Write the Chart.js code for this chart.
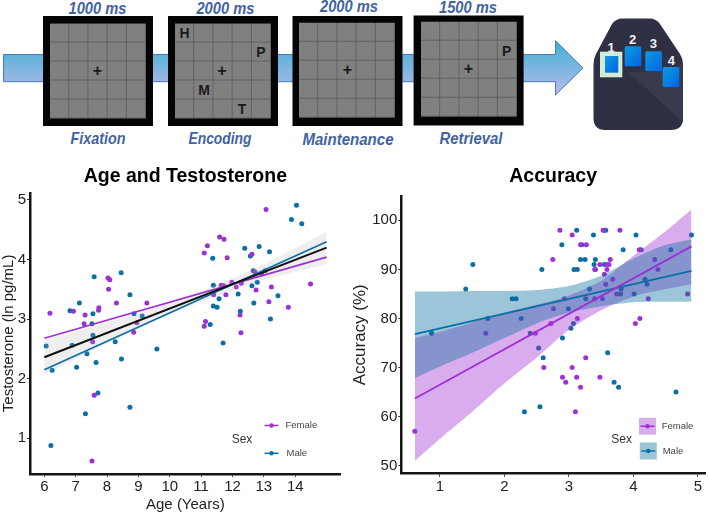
<!DOCTYPE html>
<html>
<head>
<meta charset="utf-8">
<title>Age, testosterone and accuracy</title>
<script src="https://cdn.jsdelivr.net/npm/chart.js"></script>
<style>
html, body { margin: 0; padding: 0; background: #fff; }
#page { position: relative; width: 709px; height: 514px; overflow: hidden; }
#task { position: absolute; left: 0; top: 0; }
#task text { font-family: "Liberation Sans", sans-serif; }
.cap { font-size: 17px; font-style: italic; font-weight: bold; fill: #3f63a3; text-anchor: middle; }
.letter { font-size: 14px; font-weight: bold; fill: #1a1a1a; text-anchor: middle; }
.num { font-size: 13px; font-weight: bold; fill: #f2f2f2; text-anchor: middle; }
canvas { position: absolute; top: 160px; }
#ageChart { left: 0; }
#accChart { left: 350px; }
</style>
</head>
<body>
<div id="page">
<svg id="task" width="709" height="160" xmlns="http://www.w3.org/2000/svg">
  <defs>
    <linearGradient id="arrowFill" x1="0" y1="0" x2="0" y2="1">
      <stop offset="0" stop-color="#3fb2d6"/>
      <stop offset="1" stop-color="#b9b9ea"/>
    </linearGradient>
    <linearGradient id="keyFill" x1="0" y1="0" x2="1" y2="1">
      <stop offset="0" stop-color="#0a9be0"/>
      <stop offset="1" stop-color="#0664e4"/>
    </linearGradient>
    <pattern id="cells" width="19.2" height="19" patternUnits="userSpaceOnUse">
      <rect width="19.2" height="19" fill="#808080"/>
      <path d="M19.2 0V19M0 19H19.2" stroke="#444" stroke-width="1" fill="none"/>
    </pattern>
  </defs>
  <path d="M3.5 54.5H555.5V40.7L582.8 68L555.5 95V81.7H3.5Z" fill="url(#arrowFill)" stroke="#4a78b8" stroke-width="1"/>
  <g id="frames"></g>
  <text class="letter" x="184.6" y="38">H</text>
  <text class="letter" x="260.8" y="57">P</text>
  <text class="letter" x="204" y="95">M</text>
  <text class="letter" x="242" y="114">T</text>
  <text class="letter" x="506.6" y="56">P</text>
  <text class="cap" x="97.5" y="14" textLength="58" lengthAdjust="spacingAndGlyphs">1000 ms</text>
  <text class="cap" x="225.4" y="14" textLength="58" lengthAdjust="spacingAndGlyphs">2000 ms</text>
  <text class="cap" x="349" y="12" textLength="58" lengthAdjust="spacingAndGlyphs">2000 ms</text>
  <text class="cap" x="468" y="13" textLength="58" lengthAdjust="spacingAndGlyphs">1500 ms</text>
  <text class="cap" x="98" y="144" textLength="55" lengthAdjust="spacingAndGlyphs">Fixation</text>
  <text class="cap" x="220" y="144" textLength="63" lengthAdjust="spacingAndGlyphs">Encoding</text>
  <text class="cap" x="348" y="145" textLength="91" lengthAdjust="spacingAndGlyphs">Maintenance</text>
  <text class="cap" x="471" y="144" textLength="63" lengthAdjust="spacingAndGlyphs">Retrieval</text>
  <path d="M622 18.5H650Q656 18.5 660 24L680 54Q683 59 683 64V118Q683 130 671 130H605Q593.5 130 593.5 118V64Q593.5 59 596 54L612 24Q616 18.5 622 18.5Z" fill="#2f3044"/>
  <path d="M628 72L683 122V64L660 72Z" fill="#383a4d"/>
  <rect x="600" y="51.7" width="22.3" height="25.6" fill="#d3ecd8"/>
  <rect x="605" y="56" width="13.3" height="16.7" fill="url(#keyFill)"/>
  <rect x="624.7" y="46.3" width="16.6" height="20" rx="1.5" fill="url(#keyFill)"/>
  <rect x="645.3" y="51.3" width="16.7" height="20" rx="1.5" fill="url(#keyFill)"/>
  <rect x="662.7" y="67" width="16.6" height="20" rx="1.5" fill="url(#keyFill)"/>
  <text class="num" x="611" y="52">1</text>
  <text class="num" x="632.7" y="44">2</text>
  <text class="num" x="653.3" y="48">3</text>
  <text class="num" x="671.3" y="65">4</text>
</svg>
<canvas id="ageChart" width="345" height="354"></canvas>
<canvas id="accChart" width="359" height="354"></canvas>
</div>

<script>
// left plot: age vs testosterone
var ageFemale = [6.18, 6.93, 7.30, 7.27, 8.03, 8.09, 8.05, 7.74, 7.73, 8.30, 9.27, 8.95, 8.85, 7.54, 7.59, 7.52,
  13.07, 11.59, 11.73, 11.20, 11.10, 11.83, 12.62, 12.72, 12.93, 11.98, 12.28, 11.64, 11.72, 12.12, 13.24, 14.49,
  12.75, 11.40, 11.79, 13.16, 13.78, 11.14, 11.10, 12.24, 12.27];
var testoFemale = [3.10, 3.13, 3.07, 2.92, 3.69, 3.66, 3.50, 3.19, 3.15, 3.27, 3.27, 2.94, 2.78, 2.62, 1.72, 0.62,
  4.84, 4.38, 4.34, 4.23, 4.11, 4.03, 4.09, 3.79, 3.76, 3.62, 3.60, 3.57, 3.56, 3.54, 3.54, 3.59,
  3.49, 3.41, 3.41, 3.29, 3.20, 2.96, 2.88, 3.07, 2.77];
var ageMale = [7.59, 8.45, 8.73, 7.12, 6.82, 7.55, 7.52, 7.55, 8.86, 9.12, 6.06, 6.25, 6.89, 7.03, 7.36, 7.65, 8.26,
  8.46, 9.59, 11.70, 7.71, 8.73, 7.31, 6.21,
  14.04, 13.88, 14.21, 12.85, 12.39, 13.18, 12.57, 11.37, 12.66, 13.04, 11.39, 12.79, 12.62, 12.18, 13.45, 11.57,
  12.68, 11.39, 11.51, 12.25, 13.21, 11.29];
var testoMale = [3.71, 3.78, 3.41, 3.27, 3.14, 3.09, 2.92, 2.73, 3.09, 3.05, 2.55, 2.14, 2.56, 2.19, 2.42, 2.27, 2.62,
  2.33, 2.50, 2.60, 1.76, 1.52, 1.41, 0.88,
  4.91, 4.67, 4.60, 4.22, 4.19, 4.13, 4.06, 4.02, 3.81, 3.81, 3.57, 3.62, 3.56, 3.42, 3.39, 3.34,
  3.27, 3.22, 3.20, 3.13, 3.00, 2.91];
var ageFitX = [6, 15];
var ageFitFemale = [2.68, 4.04];
var ageFitMale = [2.15, 4.30];
var ageFitAll = [2.36, 4.20];
var ageBandX = [6, 7, 8, 9, 10, 11, 12, 13, 14, 15];
var ageBandUpper = [2.65, 2.79, 2.95, 3.10, 3.28, 3.47, 3.68, 3.92, 4.19, 4.46];
var ageBandLower = [2.07, 2.33, 2.59, 2.84, 3.08, 3.29, 3.48, 3.66, 3.79, 3.92];
var ageTicksX = [6, 7, 8, 9, 10, 11, 12, 13, 14];
var ageTicksY = [1, 2, 3, 4, 5];

// right plot: accuracy
var accXFemale = [2.86, 3.05, 3.53, 3.79, 3.18, 3.27, 4.09, 2.75, 3.64, 3.48, 3.59, 3.62, 3.40, 3.59, 3.55, 4.33, 4.38,
  3.68, 3.57, 2.93, 2.76, 3.40, 3.52, 3.74, 4.23, 4.84, 3.13, 2.72, 2.48, 4.10, 4.03, 1.71, 0.61,
  2.61, 3.26, 3.05, 2.90, 3.12, 2.95, 3.18, 3.48, 3.10];
var accYFemale = [98, 97, 98, 98, 95, 95, 94, 92, 92, 91, 91, 91, 90, 90, 89, 92, 90,
  88, 87, 84, 82, 84, 84, 85, 84, 85, 80, 79, 77, 80, 79, 77, 57,
  70, 72, 70, 68, 68, 67, 66, 68, 61];
var accXMale = [3.12, 3.38, 3.55, 3.57, 4.04, 4.90, 2.89, 3.20, 3.84, 4.12, 4.58, 3.18, 3.25, 3.41, 3.39, 3.55, 2.58,
  3.08, 3.13, 3.41, 4.18, 3.32, 4.21, 3.81, 3.26, 3.80, 4.01, 2.99, 2.26, 3.07, 3.03, 2.40, 2.90,
  1.51, 1.40, 2.12, 2.18, 1.74, 0.87, 2.53, 2.60, 3.60, 3.70, 3.77, 4.66, 2.31, 2.55];
var accYMale = [98, 97, 98, 98, 97, 97, 95, 95, 94, 94, 94, 92, 92, 92, 91, 91, 90,
  90, 90, 90, 88, 86, 87, 86, 84, 85, 85, 82, 80, 79, 78, 77, 76,
  91, 86, 84, 84, 80, 77, 74, 72, 73, 67, 66, 65, 61, 62];
var accFitX = [0.61, 4.9];
var accFitFemale = [63.7, 94.7];
var accFitMale = [76.8, 89.7];
var accBandX = [0.61, 1.0, 1.5, 2.0, 2.5, 3.0, 3.5, 4.0, 4.5, 4.9];
var femaleUpper = [76.0, 77.3, 79.2, 81.2, 82.8, 84.7, 87.7, 92.8, 97.8, 102.2];
var femaleLower = [51.0, 55.5, 61.0, 66.8, 72.0, 77.7, 81.7, 84.5, 86.0, 87.0];
var maleUpper = [85.5, 85.5, 85.6, 85.6, 85.8, 86.6, 88.7, 92.2, 95.0, 96.1];
var maleLower = [67.8, 70.2, 73.0, 76.0, 79.0, 81.2, 82.5, 83.3, 83.4, 83.4];
var accTicksX = [1, 2, 3, 4, 5];
var accTicksY = [50, 60, 70, 80, 90, 100];

var PURPLE = '#9c30d4';
var BLUE = '#0a6fa6';
var PURPLE_BAND = 'rgba(160,50,210,0.4)';
var BLUE_BAND = 'rgba(10,110,160,0.4)';
var FONT = '"Liberation Sans", Arial, sans-serif';

// frames of the task strip at the top
var frameBoxes = [[43, 16, 50, 23.5], [168, 16, 175, 23.5], [292.5, 16, 299, 22.7], [413.6, 15.5, 421, 21.7]];
var plusSpots = [[97.5, 76], [222, 76], [347.4, 75], [468.5, 74]];
var frames = '';
frameBoxes.forEach(function (b, i) {
    frames += '<rect x="' + b[0] + '" y="' + b[1] + '" width="110" height="110" fill="#050505"/>';
    frames += '<g transform="translate(' + b[2] + ' ' + b[3] + ')"><rect width="96" height="95" fill="url(#cells)"/></g>';
    frames += '<text class="letter" x="' + plusSpots[i][0] + '" y="' + plusSpots[i][1] + '" style="font-size:16px">+</text>';
});
document.getElementById('frames').innerHTML = frames;

function zip(xs, ys) {
    return xs.map(function (x, i) { return { x: x, y: ys[i] }; });
}

function dots(xs, ys, color) {
    return { data: zip(xs, ys), backgroundColor: color, borderWidth: 0, pointRadius: 2.5, showLine: false, order: 3 };
}

function fitLine(xs, ys, color, width) {
    return { data: zip(xs, ys), borderColor: color, borderWidth: width, pointRadius: 0, showLine: true, fill: false, order: 0 };
}

// pair of datasets, the first fills down to the second
function band(xs, upper, lower, color, order) {
    return [
        { data: zip(xs, upper), showLine: true, borderWidth: 0, pointRadius: 0, tension: 0.25, fill: '+1', backgroundColor: color, order: order },
        { data: zip(xs, lower), showLine: true, borderWidth: 0, pointRadius: 0, tension: 0.25, fill: false, order: order }
    ];
}

function axis(opts) {
    var isX = opts.isX;
    return {
        type: 'linear',
        min: opts.min,
        max: opts.max,
        afterBuildTicks: function (s) {
            s.ticks = opts.ticks.map(function (v) { return { value: v }; });
        },
        afterFit: function (s) {
            if (isX) { s.height = opts.size; } else { s.width = opts.size; }
        },
        border: { color: '#151515', width: 2.5 },
        grid: { drawOnChartArea: false, drawTicks: true, tickLength: 3, color: '#333', lineWidth: 1 },
        ticks: { color: '#222', padding: 1, font: { family: FONT, size: opts.tickSize }, maxRotation: 0, autoSkip: false, callback: function (v) { return v; } },
        title: { display: !!opts.title, text: opts.title, color: '#222', padding: 0, font: { family: FONT, size: opts.titleSize || 15 } }
    };
}

// the Sex key inside each plot
function sexKey(key) {
    return {
        id: 'sexKey',
        afterDraw: function (chart) {
            var c = chart.ctx;
            c.save();
            c.textBaseline = 'middle';
            c.fillStyle = '#333';
            c.font = '12px ' + FONT;
            c.textAlign = 'center';
            c.fillText('Sex', key.sexX, key.sexY);
            c.textAlign = 'left';
            key.rows.forEach(function (r) {
                if (r.box) {
                    c.fillStyle = r.box;
                    c.fillRect(r.x - 8.5, r.y - 8.5, 17, 17);
                }
                c.strokeStyle = r.color;
                c.lineWidth = 1.5;
                c.beginPath();
                c.moveTo(r.x - 7, r.y);
                c.lineTo(r.x + 7, r.y);
                c.stroke();
                c.fillStyle = r.color;
                c.beginPath();
                c.arc(r.x, r.y, 2.2, 0, Math.PI * 2);
                c.fill();
                c.fillStyle = '#444';
                c.font = '9.5px ' + FONT;
                c.fillText(r.label, r.textX, r.y);
            });
            c.restore();
        }
    };
}

function makeChart(id, title, titleGap, datasets, x, y, rightPad, key) {
    return new Chart(document.getElementById(id).getContext('2d'), {
        type: 'scatter',
        data: { datasets: datasets },
        options: {
            responsive: false,
            animation: false,
            devicePixelRatio: 1,
            layout: { padding: { left: 0, right: rightPad, top: 0, bottom: 0 } },
            scales: { x: x, y: y },
            plugins: {
                legend: { display: false },
                tooltip: { enabled: false },
                filler: { drawTime: 'beforeDatasetDraw' },
                title: {
                    display: true,
                    text: title,
                    fullSize: false,
                    color: '#000',
                    padding: { top: 5, bottom: titleGap },
                    font: { family: FONT, size: 19.5, weight: 'bold' }
                }
            }
        },
        plugins: [sexKey(key)]
    });
}

var ageSets = [
    fitLine(ageFitX, ageFitAll, '#111', 2),
    fitLine(ageFitX, ageFitFemale, PURPLE, 1.6),
    fitLine(ageFitX, ageFitMale, BLUE, 1.6)
].concat(band(ageBandX, ageBandUpper, ageBandLower, 'rgba(170,170,170,0.2)', 1));
ageSets.push(dots(ageFemale, testoFemale, PURPLE));
ageSets.push(dots(ageMale, testoMale, BLUE));

makeChart('ageChart', 'Age and Testosterone', 4.4, ageSets,
    axis({ isX: true, min: 5.544, max: 15.45, ticks: ageTicksX, size: 40, tickSize: 15, title: 'Age (Years)' }),
    axis({ min: 0.40, max: 5.12, ticks: ageTicksY, size: 30, tickSize: 15, title: 'Testosterone (ln pg/mL)' }),
    4.3,
    { sexX: 242, sexY: 279.5, rows: [
        { label: 'Female', color: PURPLE, x: 271.5, y: 265.5, textX: 285.5 },
        { label: 'Male', color: BLUE, x: 271.5, y: 293.3, textX: 286.5 }
    ] });

var accSets = [
    fitLine(accFitX, accFitFemale, PURPLE, 1.8),
    fitLine(accFitX, accFitMale, BLUE, 1.8)
].concat(band(accBandX, maleUpper, maleLower, BLUE_BAND, 1))
 .concat(band(accBandX, femaleUpper, femaleLower, PURPLE_BAND, 2));
accSets.push(dots(accXFemale, accYFemale, '#a030dc'));
accSets.push(dots(accXMale, accYMale, BLUE));

makeChart('accChart', 'Accuracy', 7.4, accSets,
    axis({ isX: true, min: 0.40, max: 5.11, ticks: accTicksX, size: 40.3, tickSize: 15 }),
    axis({ min: 48.37, max: 105, ticks: accTicksY, size: 51.3, tickSize: 15, title: 'Accuracy (%)', titleSize: 17 }),
    1,
    { sexX: 271.7, sexY: 279.5, rows: [
        { label: 'Female', color: PURPLE, box: PURPLE_BAND, x: 297.5, y: 266.2, textX: 311.7 },
        { label: 'Male', color: BLUE, box: BLUE_BAND, x: 298.3, y: 291, textX: 312.7 }
    ] });
</script>
</body>
</html>
